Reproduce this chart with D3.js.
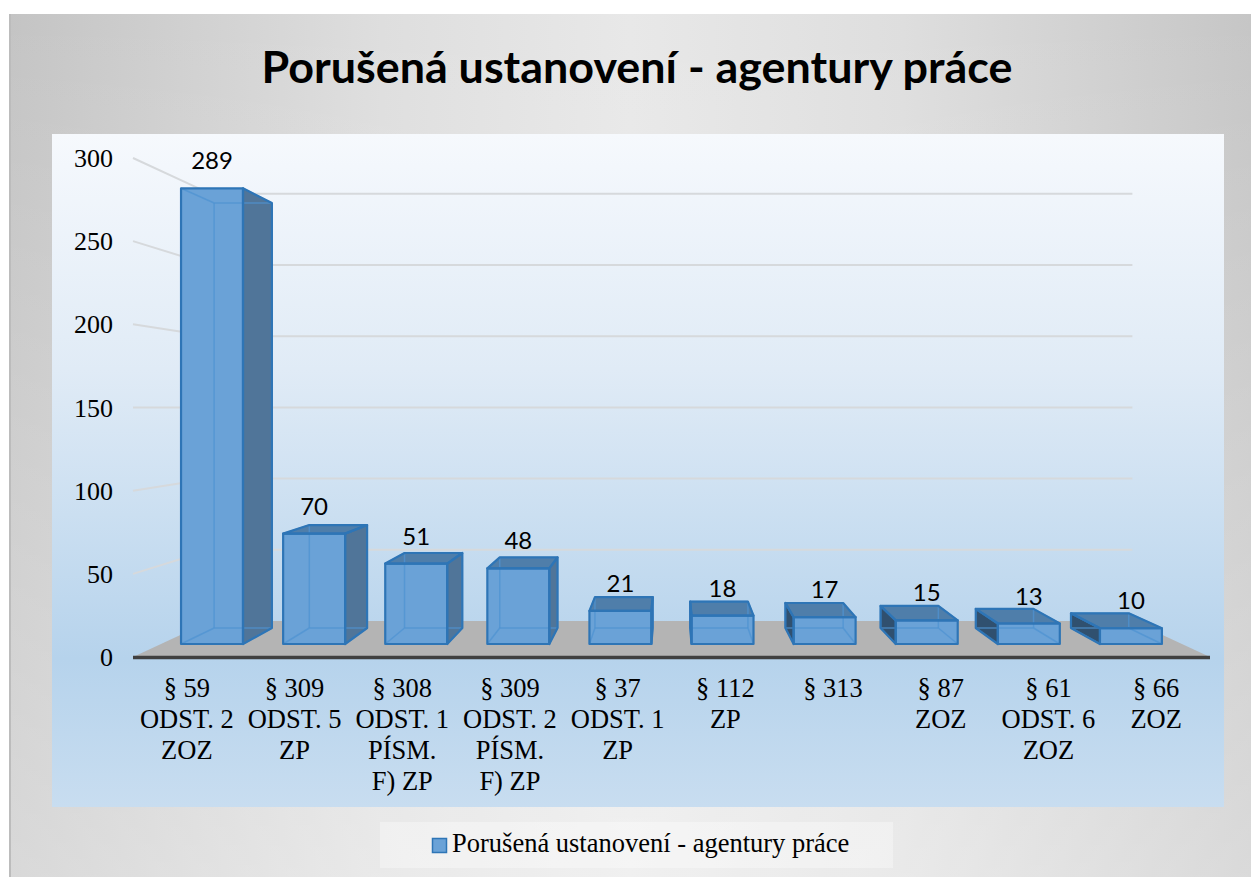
<!DOCTYPE html>
<html>
<head>
<meta charset="utf-8">
<script src="https://cdn.jsdelivr.net/npm/d3@7"></script>
<style>
  html, body { margin: 0; padding: 0; background: #fff; }
  svg { display: block; }
</style>
</head>
<body>
<div id="chart"></div>
<script>
const chartTitle = "Porušená ustanovení - agentury práce";
const seriesName = "Porušená ustanovení - agentury práce";
const categories = [
  "§ 59\nODST. 2\nZOZ",
  "§ 309\nODST. 5\nZP",
  "§ 308\nODST. 1\nPÍSM.\nF) ZP",
  "§ 309\nODST. 2\nPÍSM.\nF) ZP",
  "§ 37\nODST. 1\nZP",
  "§ 112\nZP",
  "§ 313",
  "§ 87\nZOZ",
  "§ 61\nODST. 6\nZOZ",
  "§ 66\nZOZ"
];
const values = [289, 70, 51, 48, 21, 18, 17, 15, 13, 10];
const yTicks = [0, 50, 100, 150, 200, 250, 300];

const width = 1251, height = 877;

// perspective: front plane is k = 1, everything else shrinks toward the vanishing point
const VP = { x: 671, y: 407 };
const kFront = 0.948, kBack = 0.884, kWall = 0.856;
const proj = (px, py, k) => [VP.x + (px - VP.x) * k, VP.y + (py - VP.y) * k];

const svg = d3.select('#chart')
  .append('svg')
  .attr('width', width)
  .attr('height', height);

const defs = svg.append('defs');

const outer = defs.append('linearGradient').attr('id', 'outerBg')
  .attr('x1', '0%').attr('x2', '100%').attr('y1', '0%').attr('y2', '0%');
[['0%', '#c4c4c4'], ['30%', '#dedede'], ['50%', '#e8e8e8'], ['72%', '#dedede'], ['100%', '#c6c6c6']]
  .forEach(([o, c]) => outer.append('stop').attr('offset', o).attr('stop-color', c));

const sheen = defs.append('linearGradient').attr('id', 'sheen')
  .attr('x1', '0%').attr('x2', '0%').attr('y1', '0%').attr('y2', '100%');
sheen.append('stop').attr('offset', '0%').attr('stop-color', '#fff').attr('stop-opacity', 0);
sheen.append('stop').attr('offset', '100%').attr('stop-color', '#fff').attr('stop-opacity', 0.35);

const plotBg = defs.append('linearGradient').attr('id', 'plotBg')
  .attr('x1', '0%').attr('x2', '0%').attr('y1', '0%').attr('y2', '100%');
[['0%', '#f6f9fd'], ['35%', '#e0ebf6'], ['78%', '#b6d3ec'], ['100%', '#c8ddf0']]
  .forEach(([o, c]) => plotBg.append('stop').attr('offset', o).attr('stop-color', c));

// frame
svg.append('rect').attr('x', 9).attr('y', 14).attr('width', width - 9).attr('height', height - 14)
  .attr('fill', 'url(#outerBg)');
svg.append('rect').attr('x', 9).attr('y', 14).attr('width', width - 9).attr('height', height - 14)
  .attr('fill', 'url(#sheen)');
svg.append('rect').attr('x', 9).attr('y', 14).attr('width', 2).attr('height', height - 14)
  .attr('fill', '#bcbcbc');

// plot area
svg.append('rect').attr('x', 52).attr('y', 134).attr('width', 1172).attr('height', 673)
  .attr('fill', 'url(#plotBg)');

// title
const titleText = svg.append('text')
  .attr('x', 637).attr('y', 83)
  .attr('text-anchor', 'middle')
  .style('font-family', 'Lato, "Open Sans", sans-serif')
  .style('font-weight', 'bold')
  .style('font-size', '44px')
  .text(chartTitle);
const tLen = titleText.node().getComputedTextLength();
titleText.style('font-size', (44 * 751 / tLen).toFixed(2) + 'px');

const x = d3.scaleBand()
  .domain(d3.range(categories.length))
  .range([133, 1210])
  .paddingInner(0.393)
  .paddingOuter(0.1965);

const y = d3.scaleLinear()
  .domain([0, 300])
  .range([657, 158]);

const x0 = x.range()[0], x1 = x.range()[1];
const line = d3.line();

// gridlines: side wall then back wall
svg.append('g').selectAll('path')
  .data(yTicks.filter(t => t > 0))
  .join('path')
  .attr('d', t => line([proj(x0, y(t), 1), proj(x0, y(t), kWall), proj(x1, y(t), kWall)]))
  .attr('fill', 'none')
  .attr('stroke', '#d6d9dc')
  .attr('stroke-width', 2);

// floor
svg.append('path')
  .attr('d', line([proj(x0, y(0), 1), proj(x1, y(0), 1), proj(x1, y(0), kWall), proj(x0, y(0), kWall)]) + 'Z')
  .attr('fill', '#b4b4b4');
svg.append('line')
  .attr('x1', x0).attr('x2', x1).attr('y1', y(0) + 0.5).attr('y2', y(0) + 0.5)
  .attr('stroke', '#404040').attr('stroke-width', 3.5);

// y axis labels
svg.append('g').selectAll('text')
  .data(yTicks)
  .join('text')
  .attr('x', 113)
  .attr('y', t => y(t))
  .attr('dy', '0.35em')
  .attr('text-anchor', 'end')
  .style('font-family', '"Liberation Serif", "Times New Roman", serif')
  .style('font-size', '26px')
  .text(t => t);

// bars
const bw = x.bandwidth();
const bars = svg.append('g');
values.forEach((v, i) => {
  const xl = x(i), xr = xl + bw, yb = y(0), yt = y(v);
  const Fbl = proj(xl, yb, kFront), Fbr = proj(xr, yb, kFront), Ftr = proj(xr, yt, kFront), Ftl = proj(xl, yt, kFront);
  const Bbl = proj(xl, yb, kBack), Bbr = proj(xr, yb, kBack), Btr = proj(xr, yt, kBack), Btl = proj(xl, yt, kBack);
  const g = bars.append('g');
  const faces = [];
  if (xr < VP.x) faces.push({ pts: [Fbr, Ftr, Btr, Bbr], fill: '#507599' });
  if (xl > VP.x) faces.push({ pts: [Fbl, Ftl, Btl, Bbl], fill: '#30506f' });
  if (yt > VP.y) faces.push({ pts: [Ftl, Ftr, Btr, Btl], fill: '#4f7eaa' });
  faces.push({ pts: [Fbl, Fbr, Ftr, Ftl], fill: '#6aa2d7' });

  g.selectAll('path.face')
    .data(faces)
    .join('path')
    .attr('class', 'face')
    .attr('d', d => line(d.pts) + 'Z')
    .attr('fill', d => d.fill);

  // edges seen through the translucent box
  const hidden = [[Bbl, Bbr], [Bbl, Btl], [Bbr, Btr], [Btl, Btr], [Fbl, Bbl], [Fbr, Bbr], [Ftl, Btl], [Ftr, Btr]];
  g.selectAll('path.hidden')
    .data(hidden)
    .join('path')
    .attr('class', 'hidden')
    .attr('d', d => line(d))
    .attr('fill', 'none')
    .attr('stroke', '#4f93d2')
    .attr('stroke-opacity', 0.75)
    .attr('stroke-width', 1.5);

  g.selectAll('path.edge')
    .data(faces)
    .join('path')
    .attr('class', 'edge')
    .attr('d', d => line(d.pts) + 'Z')
    .attr('fill', 'none')
    .attr('stroke', '#2e75b6')
    .attr('stroke-width', 2.2)
    .attr('stroke-linejoin', 'round');

  const lp = proj(xl + bw / 2, yt, kFront);
  svg.append('text')
    .attr('x', lp[0])
    .attr('y', lp[1] - 19)
    .attr('text-anchor', 'middle')
    .style('font-family', 'Lato, "Open Sans", sans-serif')
    .style('font-size', '24px')
    .text(v);
});

// category labels
const catG = svg.append('g')
  .style('font-family', '"Liberation Serif", "Times New Roman", serif')
  .style('font-size', '26.5px');
categories.forEach((c, i) => {
  const t = catG.append('text')
    .attr('x', x(i) + bw / 2)
    .attr('y', 697)
    .attr('text-anchor', 'middle');
  c.split('\n').forEach((s, j) => {
    t.append('tspan')
      .attr('x', x(i) + bw / 2)
      .attr('y', 697 + j * 31)
      .text(s);
  });
});

// legend
svg.append('rect')
  .attr('x', 380).attr('y', 822).attr('width', 513).attr('height', 46)
  .attr('fill', '#fff').attr('fill-opacity', 0.35);
svg.append('rect')
  .attr('x', 432.5).attr('y', 838.5).attr('width', 14).attr('height', 14)
  .attr('fill', '#6aa2d7').attr('stroke', '#2e75b6').attr('stroke-width', 1.5);
svg.append('text')
  .attr('x', 452).attr('y', 852)
  .style('font-family', '"Liberation Serif", "Times New Roman", serif')
  .style('font-size', '26.5px')
  .text(seriesName);
</script>
</body>
</html>
